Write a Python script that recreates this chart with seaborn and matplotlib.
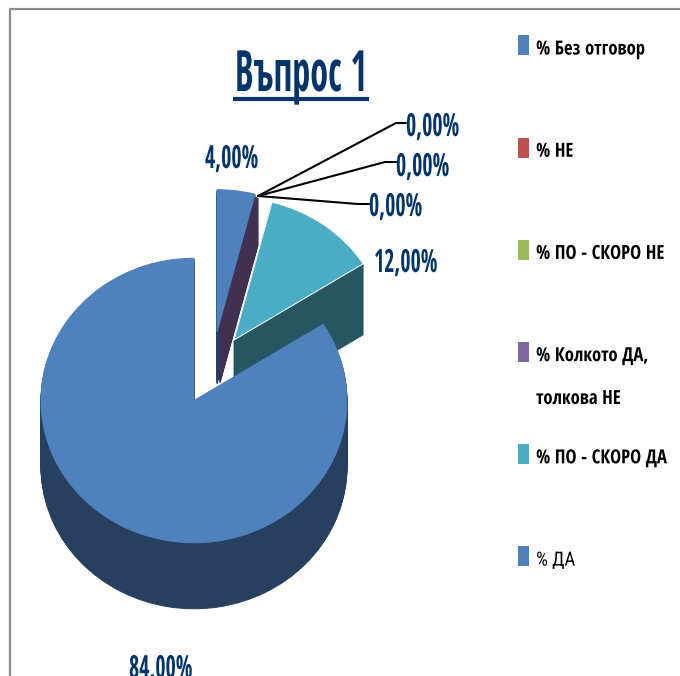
import matplotlib
matplotlib.use('Agg')
import matplotlib.pyplot as plt
from matplotlib.patches import Patch
from matplotlib.patheffects import AbstractPathEffect
from matplotlib.transforms import Affine2D
import seaborn as sns

sns.set_style('white')
plt.rcParams['font.family'] = ['Open Sans Condensed', 'DejaVu Sans']

W, H = 680, 676
SQUASH = 0.93
DEPTH = 66
RADIUS = 153

# chart data
categories = ['% Без отговор', '% НЕ', '% ПО - СКОРО НЕ', '% Колкото ДА,\nтолкова НЕ', '% ПО - СКОРО ДА', '% ДА']
values = [4, 0, 0, 0, 12, 84]
value_labels = ['4,00%', '0,00%', '0,00%', '0,00%', '12,00%', '84,00%']
legend_colors = ['#4f81bd', '#c0504d', '#9bbb59', '#8064a2', '#4bacc6', '#4f81bd']
top_colors = ['#4f81bd', '#c0504d', '#9bbb59', '#8064a2', '#4bacc6', '#4f81bd']
navy = '#03356b'


class Squeeze(AbstractPathEffect):
    # the original text is stretched tall, so narrow it from its left edge
    def __init__(self, sx):
        super().__init__()
        self.sx = sx

    def draw_path(self, renderer, gc, tpath, affine, rgbFace=None):
        renderer.draw_path(gc, tpath, Affine2D().scale(self.sx, 1) + affine, rgbFace)


def yd(py):
    return (H - py) / SQUASH


fig = plt.figure(figsize=(W / 100, H / 100), dpi=100)
ax = fig.add_axes([0, 0, 1, 1])


def draw_layer(idx, tip, color, edge=None):
    wedges, _ = ax.pie(values, colors=top_colors, startangle=90, counterclock=False, radius=RADIUS,
                       wedgeprops={'linewidth': 0.7, 'edgecolor': edge if edge else color})
    for i, w in enumerate(wedges):
        if i == idx:
            w.set_center((tip[0], yd(tip[1])))
            w.set_facecolor(color)
        else:
            w.remove()


# side walls first, stacked downwards, then the top faces
for drop in range(52, 0, -1):
    draw_layer(0, (217, 332 + drop), '#28405f')
for drop in range(48, 0, -1):
    draw_layer(0, (220, 335 + drop), '#403152')
draw_layer(0, (217, 332), top_colors[0])
for drop in range(DEPTH + 5, 0, -1):
    draw_layer(4, (234, 340 + drop), '#275663')
draw_layer(4, (234, 340), top_colors[4], edge='white')
for drop in range(DEPTH, 0, -1):
    draw_layer(5, (194, 400.5 + drop), '#28405f')
draw_layer(5, (194, 400.5), top_colors[5])

ax.set_aspect('auto')
ax.set_xlim(0, W)
ax.set_ylim(0, H / SQUASH)
ax.axis('off')


def put(px, py, s, size=23, sx=0.69):
    ax.text(px, yd(py), s, ha='left', va='baseline', color=navy, fontweight='bold', fontsize=size,
            clip_on=False, path_effects=[Squeeze(sx)])


# frame of the original slide
ax.plot([9.5, 9.5, W], [yd(H), yd(8.5), yd(8.5)], color='#8c8c8c', lw=1.6, clip_on=False)

# title
put(235, 91, 'Въпрос 1', size=41, sx=0.635)
ax.plot([233, 369], [yd(98.5), yd(98.5)], color=navy, lw=3, solid_capstyle='butt')

# value labels
put(205, 168, value_labels[0])
put(374, 272, value_labels[4])
put(129, 678, value_labels[5])
leaders = [((396, 123), (406, 123), (406, 136)),
           ((385, 162), (397, 162), (396, 176)),
           ((358, 204), (369, 204), (369, 216))]
for k, (bend, end, lab) in enumerate(leaders):
    ax.plot([258, bend[0], end[0]], [yd(196), yd(bend[1]), yd(end[1])], color='black', lw=1.5)
    put(lab[0], lab[1], value_labels[k + 1])

# legend, the second line of a wrapped label goes in by hand
fs = 14
first_lines = [c.split('\n')[0] for c in categories]
handles = [Patch(facecolor=c, edgecolor='none') for c in legend_colors]
leg = ax.legend(handles, first_lines, loc='upper left', bbox_to_anchor=(518 / W, 1 - 39 / H),
                bbox_transform=fig.transFigure, frameon=False,
                prop={'weight': 'bold', 'size': fs}, handlelength=0.57, handleheight=1.03,
                handletextpad=0.36, labelspacing=4.2, borderaxespad=0, borderpad=0)
for t in leg.get_texts():
    t.set_color('black')
    t.set_path_effects([Squeeze(0.96)])
for h in leg.legend_handles:
    h.set_height(h.get_height() * 1.12)
    h.set_y(h.get_y() + 1)
leg.get_texts()[5].set_fontfamily('Roboto Condensed')
leg.get_texts()[5].set_fontweight('normal')
ax.text(536, yd(404), categories[3].split('\n')[1], ha='left', va='baseline', color='black',
        fontweight='bold', fontsize=fs, path_effects=[Squeeze(0.96)])

fig.savefig('out.png', dpi=100)
